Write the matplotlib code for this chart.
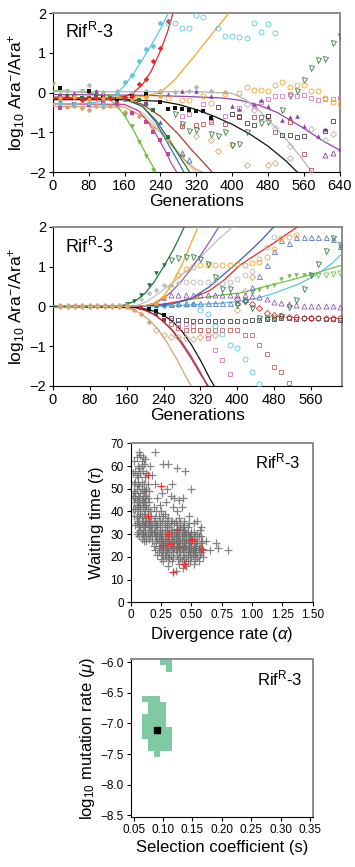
import matplotlib
matplotlib.use("Agg")
import matplotlib.pyplot as plt

plt.rcParams['font.family'] = ['Liberation Sans', 'DejaVu Sans']
plt.rcParams['mathtext.fontset'] = 'custom'
plt.rcParams['mathtext.rm'] = 'Liberation Sans'
plt.rcParams['mathtext.it'] = 'Liberation Sans:italic'

# ---------------- panel 1 : observed trajectories ----------------
# cyan
c1_fit_t = [0, 80, 120, 140, 160, 180, 200, 220, 240, 258]
c1_fit_y = [-0.28, -0.27, -0.2, -0.06, 0.18, 0.48, 0.83, 1.2, 1.6, 2.0]
c1_fill_t = [16, 48, 80, 112, 144, 160, 176, 192, 208, 224, 240]
c1_fill_y = [-0.27, -0.3, -0.26, -0.28, 0.0, 0.27, 0.45, 0.8, 1.1, 1.18, 1.75]
c1_open_t = [256, 272, 288, 304, 320, 336, 368, 384, 400, 416, 432, 448, 464, 480, 496]
c1_open_y = [1.74, 1.74, 1.62, 1.62, 1.96, 1.89, 1.62, 1.42, 1.41, 1.40, 1.38, 1.76, 1.53, 1.72, 1.49]
# red
r1_fit_t = [0, 120, 160, 180, 200, 220, 240, 255, 268]
r1_fit_y = [-0.15, -0.15, -0.1, 0.0, 0.2, 0.55, 1.05, 1.5, 2.0]
r1_fill_t = [32, 64, 96, 128, 160, 176, 192, 208, 224, 240, 256]
r1_fill_y = [-0.12, -0.18, -0.14, -0.15, -0.12, -0.1, 0.21, 0.33, 0.80, 1.13, 1.80]
# orange
o1_fit_t = [0, 160, 200, 240, 270, 306, 340, 370, 393]
o1_fit_y = [-0.15, -0.14, -0.1, 0.0, 0.3, 0.78, 1.26, 1.68, 2.0]
o1_fill_t = [16, 48, 80, 112, 144, 176, 208, 240]
o1_fill_y = [-0.15, -0.12, -0.18, -0.14, -0.1, -0.16, -0.12, -0.1]
o1_open_t = [256, 288, 304, 336, 352, 384, 416, 432, 448, 464, 480, 496, 512, 528, 544, 560, 576, 592, 608, 624, 640]
o1_open_y = [-0.15, -0.18, -0.2, -0.08, -0.27, -0.05, 0.0, 0.15, 0.06, 0.07, 0.05, 0.18, 0.27, 0.14, 0.19, 0.2, 0.05, 0.03, -0.15, -0.25, -0.3]
# black
k1_fit_t = [0, 160, 240, 280, 320, 360, 400, 440, 480, 520, 545]
k1_fit_y = [-0.18, -0.18, -0.22, -0.3, -0.43, -0.6, -0.8, -1.05, -1.35, -1.72, -2.0]
k1_fill_t = [16, 48, 80, 112, 144, 176, 208, 240, 256, 272, 288, 304, 320, 336, 352]
k1_fill_y = [0.12, -0.15, 0.05, -0.14, -0.16, -0.1, -0.05, -0.23, -0.41, -0.40, -0.41, -0.43, -0.46, -0.46, -0.64]
k1_open_t = [368, 400, 416, 432, 448, 480, 512, 528, 544, 560, 608, 624]
k1_open_y = [-0.36, -0.55, -0.61, -0.77, -0.81, -0.6, -1.06, -1.07, -1.12, -1.10, -0.96, -0.72]
# grey
g1_fit_t = [0, 320, 400, 430, 460, 490, 520, 550, 578]
g1_fit_y = [0.02, 0.02, -0.02, -0.18, -0.45, -0.8, -1.17, -1.58, -2.0]
g1_fill_t = [32, 64, 80, 112, 144, 176, 208, 240, 272, 304, 320, 352, 384]
g1_fill_y = [0.03, 0.05, 0.18, 0.02, 0.04, 0.0, 0.03, 0.05, 0.02, 0.04, 0.13, 0.03, 0.02]
g1_open_t = [432, 448, 480, 496, 528, 576, 608, 624]
g1_open_y = [-0.3, -0.44, -0.7, -0.9, -1.34, -0.93, -1.2, -1.04]
# purple
p1_fit_t = [0, 200, 300, 380, 420, 460, 500, 530, 560, 600, 640]
p1_fit_y = [-0.05, -0.07, -0.1, -0.14, -0.2, -0.32, -0.5, -0.7, -0.9, -1.2, -1.45]
p1_fill_t = [16, 48, 80, 96, 112, 144, 176, 208, 240, 256, 288, 320, 352, 400, 416, 448, 464, 480, 512, 528, 544, 560, 592, 608, 640]
p1_fill_y = [-0.05, 0.0, 0.05, 0.03, 0.02, -0.02, 0.0, -0.05, 0.05, -0.05, 0.03, 0.04, -0.09, -0.34, -0.42, -0.28, -0.18, -0.35, -0.7, -0.62, -0.58, -0.84, -1.1, -0.92, -1.42]
p1_open_t = [608, 624]
p1_open_y = [-1.58, -1.52]
# magenta
m1_fit_t = [0, 160, 190, 210, 230, 250, 265, 276]
m1_fit_y = [-0.28, -0.3, -0.45, -0.7, -1.05, -1.45, -1.8, -2.0]
m1_fill_t = [16, 48, 80, 112, 144, 176, 208, 224, 240, 256]
m1_fill_y = [-0.38, -0.3, -0.32, -0.25, -0.3, -0.52, -0.75, -1.0, -1.2, -1.55]
m1_open_t = [288, 304, 336, 352, 384, 400, 416, 448, 464, 480, 496, 512, 528, 544, 560, 576, 592, 608, 624, 640]
m1_open_y = [-0.6, -0.55, -0.3, -0.7, -0.6, -0.55, -0.4, -0.35, -0.23, -0.17, -0.1, -0.1, -0.05, -0.08, -0.06, -0.14, -0.2, -0.17, -0.17, -0.14]
# light green
l1_fit_t = [0, 80, 120, 140, 160, 180, 200, 215, 230]
l1_fit_y = [0.05, 0.0, -0.12, -0.3, -0.58, -0.95, -1.38, -1.7, -2.0]
l1_fill_t = [0, 32, 64, 96, 128, 144, 160, 176, 192, 208, 224]
l1_fill_y = [0.21, 0.05, 0.04, 0.02, -0.08, -0.3, -0.57, -0.85, -1.25, -1.59, -1.96]
# dark green
d1_fit_t = [0, 160, 200, 230, 260, 285, 305]
d1_fit_y = [-0.12, -0.15, -0.35, -0.7, -1.2, -1.65, -2.0]
d1_fill_t = [32, 64, 96, 128, 160, 192, 224, 256]
d1_fill_y = [-0.1, -0.15, -0.08, -0.12, -0.15, -0.2, -0.45, -1.11]
d1_open_t = [272, 288, 304, 320, 352, 368, 384, 400, 416, 432, 464, 480, 512, 528, 544, 560, 576, 592, 608, 624, 640]
d1_open_y = [-0.55, -0.8, -0.96, -0.94, -1.05, -1.09, -1.0, -1.32, -1.3, -1.0, -0.76, -0.73, -0.44, -0.09, 0.05, 0.31, 0.62, 0.82, 0.84, 1.25, 1.42]
# blue
b1_fit_t = [0, 160, 200, 230, 255, 275, 292]
b1_fit_y = [-0.15, -0.17, -0.35, -0.75, -1.25, -1.65, -2.0]
b1_fill_t = [16, 64, 112, 160, 208, 240]
b1_fill_y = [-0.2, -0.15, -0.18, -0.16, -0.25, -0.75]
b1_open_t = [288, 304]
b1_open_y = [-1.52, -1.69]
# dark red
e1_fit_t = [0, 160, 200, 240, 280, 310, 335, 355]
e1_fit_y = [-0.12, -0.15, -0.3, -0.6, -1.05, -1.45, -1.75, -2.0]
e1_fill_t = [16, 48, 80, 112, 144, 176, 208]
e1_fill_y = [-0.12, -0.1, -0.14, -0.12, -0.18, -0.2, -0.28]
e1_open_t = [288, 320, 336, 352, 384, 416, 448, 464, 480, 496, 528, 560, 576]
e1_open_y = [-0.85, -0.82, -0.79, -0.75, -0.78, -0.6, -0.62, -0.62, -0.6, -0.99, -0.75, -1.55, -1.94]
# tan
t1_fit_t = [0, 160, 200, 240, 270, 295, 315, 332]
t1_fit_y = [-0.35, -0.37, -0.6, -1.0, -1.4, -1.7, -1.9, -2.0]
t1_fill_t = [16, 32, 48, 64, 80, 96, 112, 128, 144, 160, 176, 192, 224, 256, 288]
t1_fill_y = [-0.33, -0.36, -0.35, -0.38, -0.45, -0.34, -0.36, -0.33, -0.35, -0.5, -0.52, -0.6, -0.9, -1.2, -1.6]
t1_open_t = [320, 352, 368, 400, 432, 480, 496, 528]
t1_open_y = [-1.09, -1.2, -1.48, -1.31, -1.82, -1.83, -1.78, -1.65]
# light tan
u1_fit_t = [0, 160, 200, 240, 270, 300, 320]
u1_fit_y = [-0.3, -0.32, -0.5, -0.95, -1.35, -1.8, -2.0]

# ---------------- panel 2 : simulated trajectories ----------------
base_t = [16, 32, 48, 64, 80, 96, 112, 128, 144, 160]
base_y = [0, 0, 0, 0, 0, 0, 0, 0, 0, 0]
# dark green
d2_fit_t = [0, 140, 160, 180, 200, 220, 240, 260, 275, 285]
d2_fit_y = [0, 0.0, 0.05, 0.15, 0.33, 0.62, 1.0, 1.4, 1.75, 2.0]
d2_fill_t = [160, 176, 192, 208, 224, 240]
d2_fill_y = [0.05, 0.15, 0.3, 0.55, 0.84, 1.04]
d2_open_t = [256, 272, 288, 304, 320, 336, 352, 368, 384, 400, 416, 432, 448, 464, 480, 496, 512, 528, 544, 560, 576, 592, 608, 624]
d2_open_y = [1.16, 1.22, 1.25, 1.25, 1.19, 1.08, 0.74, 0.45, 0.43, 0.03, 0.15, -0.05, -0.3, -0.3, -0.28, -0.25, -0.01, 0.16, 0.45, 0.8, 1.08, 1.39, 1.72, 1.55]
# orange
o2_fit_t = [0, 200, 220, 240, 260, 280, 300, 315]
o2_fit_y = [0, 0.02, 0.08, 0.25, 0.6, 1.05, 1.6, 2.0]
o2_fill_t = [224, 240]
o2_fill_y = [0.1, 0.25]
o2_open_t = [256, 272, 288, 304, 320, 336, 352, 368, 384, 400, 416, 432, 448, 464, 480, 496, 512, 528]
o2_open_y = [0.5, 0.8, 0.95, 1.0, 1.05, 1.05, 1.05, 1.05, 1.05, 1.06, 1.05, 1.1, 1.12, 1.25, 1.45, 1.72, 1.75, 1.79]
# purple
p2_fit_t = [0, 200, 220, 240, 260, 280, 300, 330, 360]
p2_fit_y = [0, 0.02, 0.08, 0.2, 0.4, 0.65, 0.95, 1.45, 2.0]
p2_fill_t = [224, 240]
p2_fill_y = [0.12, 0.22]
p2_open_t = [256, 272, 288, 304, 320, 336, 352, 368, 384, 400, 416, 432, 448, 464, 480, 496, 512, 528, 544, 560, 576, 592, 608, 624]
p2_open_y = [0.3, 0.3, 0.3, 0.3, 0.3, 0.3, 0.3, 0.3, 0.3, 0.3, 0.28, 0.26, 0.24, 0.19, 0.11, 0.08, 0.05, 0.03, 0.0, 0.0, 0.0, 0.0, 0.0, -0.02]
# light grey
g2_fit_t = [0, 180, 200, 220, 240, 260, 280, 300, 330, 360, 390]
g2_fit_y = [0, 0.02, 0.1, 0.25, 0.42, 0.6, 0.8, 1.0, 1.35, 1.7, 2.0]
g2_fill_t = [192, 208, 224, 240, 256, 272]
g2_fill_y = [0.2, 0.35, 0.41, 0.53, 0.55, 0.6]
g2_open_t = [288, 304, 320, 336, 352, 368, 384, 400, 416, 432, 448, 464, 480]
g2_open_y = [0.61, 0.61, 0.61, 0.61, 0.61, 0.6, 0.62, 0.68, 0.78, 0.89, 1.2, 1.5, 1.75]
# blue
b2_fit_t = [0, 220, 260, 300, 340, 363, 400, 430, 455, 479]
b2_fit_y = [0, 0.02, 0.07, 0.2, 0.5, 0.73, 1.1, 1.42, 1.7, 2.0]
b2_fill_t = [224, 240]
b2_fill_y = [0.04, 0.06]
b2_open_t = [256, 272, 288, 304, 320, 336, 352, 368, 384, 400, 416, 432, 448, 464, 480, 496, 512, 528, 544, 560, 576, 592, 608, 624]
b2_open_y = [0.05, 0.08, 0.08, 0.1, 0.1, 0.1, 0.1, 0.1, 0.1, 0.12, 0.2, 0.49, 0.76, 1.04, 1.4, 1.66, 1.6, 1.76, 1.76, 1.76, 1.76, 1.76, 1.7, 1.52]
# red
r2_fit_t = [0, 200, 240, 270, 300, 340, 370, 406, 440, 480, 530]
r2_fit_y = [0, 0.02, 0.06, 0.12, 0.2, 0.4, 0.65, 1.04, 1.3, 1.6, 2.0]
r2_open_t = [400, 416, 432, 448, 464, 480, 496, 512, 528, 544, 560, 576, 592, 608, 624]
r2_open_y = [0.2, 0.15, 0.07, -0.04, -0.16, -0.22, -0.25, -0.27, -0.27, -0.28, -0.29, -0.3, -0.3, -0.3, -0.3]
# cyan
c2_fit_t = [0, 240, 300, 360, 400, 440, 471, 500, 530, 560, 580, 605, 627]
c2_fit_y = [0, 0.01, 0.04, 0.08, 0.12, 0.2, 0.3, 0.42, 0.55, 0.72, 0.86, 1.08, 1.33]
c2_fill_t = [224, 240, 256, 272, 288, 304]
c2_fill_y = [0.0, 0.02, 0.03, 0.03, 0.04, 0.05]
c2_open_t = [320, 336, 352, 368, 384, 400, 416, 432, 448]
c2_open_y = [-0.08, -0.18, -0.5, -0.7, -0.98, -1.05, -1.31, -1.65, -1.95]
# light green
l2_fit_t = [0, 240, 300, 360, 406, 460, 515, 570, 627]
l2_fit_y = [0, 0.02, 0.18, 0.28, 0.34, 0.5, 0.66, 0.84, 1.04]
l2_fill_t = [432, 448, 464, 480, 496, 512, 528, 544, 560]
l2_fill_y = [0.35, 0.42, 0.5, 0.55, 0.69, 0.77, 0.79, 0.8, 0.8]
l2_open_t = [576, 592, 608, 624]
l2_open_y = [0.8, 0.8, 0.82, 0.84]
# black
k2_fit_t = [0, 180, 200, 220, 240, 260, 280, 300, 320, 340, 350]
k2_fit_y = [0, -0.02, -0.06, -0.12, -0.22, -0.38, -0.62, -0.95, -1.35, -1.8, -2.0]
k2_fill_t = [208, 224, 240]
k2_fill_y = [-0.06, -0.12, -0.22]
k2_open_t = [256, 272, 288, 304, 320, 336, 352, 368, 384, 400, 416, 432, 448, 464, 480, 496, 512, 528, 544, 560, 576, 592, 608, 624]
k2_open_y = [-0.29, -0.33, -0.35, -0.36, -0.37, -0.37, -0.37, -0.37, -0.37, -0.37, -0.37, -0.35, -0.33, -0.32, -0.32, -0.3, -0.3, -0.31, -0.3, -0.3, -0.3, -0.31, -0.32, -0.35]
# dark red
e2_fit_t = [0, 180, 200, 220, 240, 260, 280, 300, 320, 340]
e2_fit_y = [0, -0.03, -0.1, -0.2, -0.38, -0.62, -0.95, -1.3, -1.7, -2.05]
e2_fill_t = [192, 208, 224, 240]
e2_fill_y = [-0.05, -0.1, -0.2, -0.35]
e2_open_t = [256, 272, 288, 304, 320, 336, 352, 368, 384, 400, 416, 432, 448, 464, 480, 496, 512]
e2_open_y = [-0.45, -0.55, -0.58, -0.58, -0.58, -0.58, -0.58, -0.6, -0.6, -0.6, -0.71, -0.71, -0.98, -1.2, -1.52, -1.65, -1.92]
# magenta
m2_fit_t = [0, 180, 200, 220, 240, 260, 280, 300, 320, 335]
m2_fit_y = [0, -0.03, -0.09, -0.2, -0.38, -0.6, -0.9, -1.25, -1.65, -2.0]
m2_open_t = [256, 272, 288, 304, 320, 336, 352, 368, 384]
m2_open_y = [-0.35, -0.42, -0.45, -0.5, -0.6, -0.8, -1.1, -1.35, -1.69]
# tan
t2_fit_t = [0, 150, 170, 190, 210, 230, 250, 270, 290, 300]
t2_fit_y = [0, -0.02, -0.07, -0.17, -0.35, -0.6, -0.95, -1.35, -1.8, -2.0]
t2_fill_t = [176, 192, 208]
t2_fill_y = [-0.08, -0.2, -0.39]
t2_open_t = [224, 240, 256, 272, 288, 304, 320, 336, 352, 400, 416, 432]
t2_open_y = [-0.6, -0.71, -0.78, -0.78, -0.8, -0.82, -0.78, -0.72, -0.72, -0.08, 0.4, 0.75]

# ---------------- panel 3 : waiting time vs divergence ----------------
grey_pts = [
    (0.02, 57), (0.03, 62), (0.04, 58), (0.05, 64), (0.07, 66), (0.08, 65), (0.09, 62), (0.10, 64),
    (0.12, 63), (0.04, 53), (0.06, 55), (0.08, 57), (0.10, 58), (0.12, 55), (0.14, 52), (0.03, 49),
    (0.05, 50), (0.07, 51), (0.09, 53), (0.11, 52), (0.13, 50), (0.15, 49), (0.04, 46), (0.06, 47),
    (0.08, 48), (0.10, 47), (0.12, 46), (0.14, 46), (0.03, 44), (0.05, 43), (0.07, 44), (0.09, 45),
    (0.11, 44), (0.13, 43), (0.15, 44), (0.04, 41), (0.06, 40), (0.08, 41), (0.10, 42), (0.12, 40),
    (0.14, 41), (0.16, 40), (0.05, 38), (0.07, 37), (0.09, 38), (0.11, 39), (0.13, 37), (0.15, 36),
    (0.17, 38), (0.05, 35), (0.07, 34), (0.09, 35), (0.11, 34), (0.13, 35), (0.15, 33), (0.17, 34),
    (0.06, 31), (0.08, 32), (0.10, 30), (0.12, 31), (0.14, 30), (0.07, 29), (0.09, 28), (0.11, 27),
    (0.13, 29), (0.16, 60), (0.18, 56), (0.20, 52), (0.09, 60), (0.06, 60),
    (0.16, 32), (0.18, 30), (0.20, 29), (0.18, 34), (0.20, 33), (0.22, 31), (0.24, 30), (0.22, 35),
    (0.24, 34), (0.26, 32), (0.28, 31), (0.20, 37), (0.23, 38), (0.26, 36), (0.28, 35), (0.30, 34),
    (0.32, 33), (0.25, 40), (0.28, 39), (0.31, 37), (0.34, 36), (0.36, 35), (0.18, 27), (0.21, 26),
    (0.24, 25), (0.27, 24), (0.20, 23), (0.23, 22), (0.26, 21), (0.29, 20), (0.32, 19), (0.25, 27),
    (0.28, 28), (0.30, 26), (0.33, 25), (0.36, 24), (0.30, 30), (0.33, 29), (0.36, 28), (0.39, 27),
    (0.42, 26), (0.34, 32), (0.37, 31), (0.40, 30), (0.43, 29), (0.46, 28), (0.38, 34), (0.41, 33),
    (0.44, 32), (0.47, 31), (0.50, 30), (0.40, 37), (0.44, 36), (0.48, 35), (0.35, 22), (0.38, 21),
    (0.41, 20), (0.44, 19), (0.47, 18), (0.38, 24), (0.41, 23), (0.44, 22), (0.47, 21), (0.50, 20),
    (0.53, 19), (0.45, 25), (0.48, 24), (0.51, 23), (0.54, 22), (0.57, 21), (0.47, 27), (0.50, 26),
    (0.53, 25), (0.56, 24), (0.49, 29), (0.52, 28), (0.55, 27), (0.58, 26), (0.52, 31), (0.55, 30),
    (0.58, 29), (0.34, 18), (0.40, 17), (0.46, 16), (0.52, 17), (0.56, 18), (0.30, 23), (0.33, 21),
    (0.26, 28), (0.22, 28), (0.16, 29), (0.19, 31), (0.60, 23), (0.62, 27), (0.65, 23), (0.70, 26),
    (0.72, 24), (0.80, 23), (0.60, 20), (0.57, 32), (0.50, 50), (0.45, 58), (0.43, 46), (0.38, 59),
    (0.36, 46), (0.34, 52), (0.30, 50), (0.31, 61), (0.27, 61), (0.20, 66), (0.40, 45), (0.42, 42),
    (0.35, 42), (0.38, 40), (0.29, 44), (0.33, 47), (0.26, 48), (0.22, 46), (0.24, 43), (0.19, 42),
    (0.21, 40), (0.48, 38), (0.52, 35), (0.55, 36), (0.58, 33), (0.37, 14), (0.31, 16), (0.27, 18),
    (0.43, 15), (0.35, 26), (0.37, 27), (0.39, 25), (0.41, 27), (0.43, 24), (0.45, 26), (0.47, 23),
    (0.49, 25), (0.51, 22), (0.53, 24), (0.36, 29), (0.38, 30), (0.40, 28), (0.42, 29), (0.44, 27),
    (0.46, 29), (0.48, 26), (0.50, 28), (0.32, 27), (0.34, 24), (0.36, 25), (0.28, 25), (0.27, 22),
    (0.31, 20), (0.25, 23), (0.23, 24),
    (0.05, 56), (0.07, 59), (0.11, 61), (0.13, 57), (0.03, 52), (0.06, 52), (0.09, 50), (0.12, 49),
    (0.04, 48), (0.07, 46), (0.11, 49), (0.13, 47), (0.05, 45), (0.08, 43), (0.10, 44), (0.12, 42),
    (0.14, 38), (0.06, 42), (0.08, 39), (0.10, 36), (0.12, 36), (0.14, 34), (0.06, 36), (0.08, 33),
    (0.10, 32), (0.12, 33), (0.16, 36), (0.09, 30), (0.11, 29), (0.13, 27), (0.15, 28), (0.02, 47),
    (0.02, 41), (0.03, 38), (0.04, 34), (0.05, 30),
    (0.22, 33), (0.24, 32), (0.26, 30), (0.28, 33), (0.30, 32), (0.32, 30), (0.34, 29), (0.36, 31),
    (0.38, 32), (0.40, 32), (0.42, 31), (0.44, 30), (0.46, 30), (0.48, 29), (0.50, 27), (0.52, 26),
    (0.54, 25), (0.56, 23), (0.58, 22), (0.55, 20), (0.51, 21), (0.49, 22), (0.46, 20), (0.43, 21),
    (0.40, 22), (0.37, 23), (0.34, 26), (0.31, 24), (0.29, 23), (0.26, 25), (0.23, 27), (0.21, 29),
    (0.19, 25), (0.22, 21), (0.25, 19), (0.28, 21), (0.32, 22), (0.35, 20), (0.39, 19), (0.42, 18),
    (0.45, 17), (0.49, 18), (0.53, 21), (0.57, 24), (0.59, 27), (0.56, 29), (0.53, 29), (0.50, 31),
    (0.47, 33), (0.44, 34), (0.41, 35), (0.37, 36), (0.33, 35), (0.30, 36), (0.27, 38), (0.24, 36),
    (0.21, 34), (0.19, 36), (0.17, 31), (0.20, 31), (0.23, 29), (0.27, 27), (0.29, 29), (0.31, 28),
    (0.35, 27), (0.38, 26), (0.40, 25), (0.42, 24), (0.44, 25), (0.46, 24), (0.48, 22), (0.50, 24),
    (0.52, 23), (0.54, 26), (0.45, 31), (0.43, 33), (0.39, 29), (0.37, 29), (0.33, 31), (0.28, 26),
    (0.25, 29),
]
red_pts = [(0.146, 56.1), (0.247, 51.0), (0.146, 38.0), (0.305, 30.0), (0.269, 25.3), (0.324, 25.5),
           (0.385, 32.3), (0.401, 24.2), (0.508, 27.5), (0.585, 23.5), (0.442, 16.9), (0.352, 13.2)]

# ---------------- panel 4 : selection coefficient vs mutation rate ----------------
cell_s = [0.10, 0.11, 0.11,
          0.07, 0.08, 0.09,
          0.08, 0.09, 0.10, 0.08, 0.09, 0.10,
          0.07, 0.08, 0.09, 0.10, 0.07, 0.08, 0.09, 0.10,
          0.07, 0.08, 0.09, 0.10, 0.11, 0.07, 0.08, 0.09, 0.10, 0.11,
          0.08, 0.09, 0.10, 0.11, 0.08, 0.09, 0.10, 0.11,
          0.09]
cell_mu = [-6.0, -6.0, -6.1,
           -6.6, -6.6, -6.6,
           -6.7, -6.7, -6.7, -6.8, -6.8, -6.8,
           -6.9, -6.9, -6.9, -6.9, -7.0, -7.0, -7.0, -7.0,
           -7.1, -7.1, -7.1, -7.1, -7.1, -7.2, -7.2, -7.2, -7.2, -7.2,
           -7.3, -7.3, -7.3, -7.3, -7.4, -7.4, -7.4, -7.4,
           -7.5]
best_s = 0.09
best_mu = -7.1

# styles
FS_LAB = 12.5
GREY_SP = '#8c8c8c'


def style_axes(ax, tick_fs):
    for s in ['left', 'bottom']:
        ax.spines[s].set_color('black')
        ax.spines[s].set_linewidth(0.8)
    for s in ['top', 'right']:
        ax.spines[s].set_color(GREY_SP)
        ax.spines[s].set_linewidth(1.4)
    ax.tick_params(direction='out', length=3, width=0.8, labelsize=tick_fs, pad=2)
    ax.tick_params(top=False, right=False)


def draw(ax, fit_t, fit_y, col, mk, fill_t=None, fill_y=None, open_t=None, open_y=None, ms=3.3):
    ax.plot(fit_t, fit_y, '-', color=col, lw=0.9, zorder=3)
    if fill_t:
        ax.plot(fill_t, fill_y, mk, color=col, ms=ms, mew=0, ls='none', zorder=4)
    if open_t:
        ax.plot(open_t, open_y, mk, mfc='none', mec=col, ms=ms + 0.3, mew=0.6, ls='none', zorder=4)


def open_pts(ax, t, y, col, mk, ms=3.6):
    ax.plot(t, y, mk, mfc='none', mec=col, ms=ms, mew=0.6, ls='none', zorder=4)


def rif_label(ax, x, y, fs):
    ax.text(x, y, r'Rif$^{\mathrm{R}}$-3', transform=ax.transAxes, fontsize=fs, va='center', ha='left')


fig = plt.figure(figsize=(3.55, 8.67), dpi=100)

# panel 1
ax1 = fig.add_axes([0.149, 0.8016, 0.808, 0.1834])
draw(ax1, u1_fit_t, u1_fit_y, '#e6c8a0', 'D')
draw(ax1, t1_fit_t, t1_fit_y, '#d2a574', 'D', t1_fill_t, t1_fill_y, t1_open_t, t1_open_y, ms=2.8)
draw(ax1, e1_fit_t, e1_fit_y, '#b03a2e', 's', e1_fill_t, e1_fill_y, None, None, ms=2.8)
open_pts(ax1, e1_open_t, e1_open_y, '#c0504d', 's', 3.3)
draw(ax1, b1_fit_t, b1_fit_y, '#3d6cc0', '^', b1_fill_t, b1_fill_y, b1_open_t, b1_open_y)
draw(ax1, d1_fit_t, d1_fit_y, '#1f7a3a', 's', d1_fill_t, d1_fill_y, None, None, ms=2.8)
open_pts(ax1, d1_open_t, d1_open_y, '#3a7d44', 'v')
draw(ax1, l1_fit_t, l1_fit_y, '#6abd45', 'v', l1_fill_t, l1_fill_y)
draw(ax1, m1_fit_t, m1_fit_y, '#c4459c', 's', m1_fill_t, m1_fill_y, None, None, ms=2.8)
open_pts(ax1, m1_open_t, m1_open_y, '#d27cbc', 's', 3.3)
draw(ax1, p1_fit_t, p1_fit_y, '#8e44ad', '^', p1_fill_t, p1_fill_y, p1_open_t, p1_open_y)
draw(ax1, g1_fit_t, g1_fit_y, '#b5b5b5', 'D', g1_fill_t, g1_fill_y, g1_open_t, g1_open_y, ms=2.8)
draw(ax1, k1_fit_t, k1_fit_y, '#111111', 's', k1_fill_t, k1_fill_y, None, None, ms=2.8)
open_pts(ax1, k1_open_t, k1_open_y, '#444444', 's', 3.3)
draw(ax1, o1_fit_t, o1_fit_y, '#f5a623', 'o', o1_fill_t, o1_fill_y, o1_open_t, o1_open_y)
draw(ax1, r1_fit_t, r1_fit_y, '#e8262a', 'D', r1_fill_t, r1_fill_y, None, None, ms=2.8)
draw(ax1, c1_fit_t, c1_fit_y, '#5bc6e0', 'o', c1_fill_t, c1_fill_y, c1_open_t, c1_open_y)
ax1.set_xlim(0, 640)
ax1.set_ylim(-2, 2)
ax1.set_xticks(range(0, 641, 80))
ax1.set_yticks([-2, -1, 0, 1, 2])
style_axes(ax1, 10.5)
ax1.set_xlabel('Generations', fontsize=FS_LAB, labelpad=1)
ax1.set_ylabel(r'log$_{10}$ Ara$^{-}$/Ara$^{+}$', fontsize=FS_LAB, labelpad=2)
rif_label(ax1, 0.043, 0.882, 13)

# panel 2
ax2 = fig.add_axes([0.149, 0.5548, 0.814, 0.1834])
ax2.plot(base_t, base_y, 'D', color='#d2a574', ms=2.8, ls='none', zorder=5)
draw(ax2, t2_fit_t, t2_fit_y, '#d2a574', 'D', t2_fill_t, t2_fill_y, t2_open_t, t2_open_y, ms=2.8)
draw(ax2, m2_fit_t, m2_fit_y, '#c4459c', 's')
open_pts(ax2, m2_open_t, m2_open_y, '#d27cbc', 's', 3.3)
draw(ax2, e2_fit_t, e2_fit_y, '#b22d2d', 's', e2_fill_t, e2_fill_y, None, None, ms=2.8)
open_pts(ax2, e2_open_t, e2_open_y, '#c8655d', 's', 3.3)
draw(ax2, k2_fit_t, k2_fit_y, '#111111', 's', k2_fill_t, k2_fill_y, None, None, ms=2.8)
open_pts(ax2, k2_open_t, k2_open_y, '#444444', 's', 3.3)
draw(ax2, l2_fit_t, l2_fit_y, '#72c043', 'v', l2_fill_t, l2_fill_y, l2_open_t, l2_open_y)
draw(ax2, c2_fit_t, c2_fit_y, '#5bc6e0', 'o', c2_fill_t, c2_fill_y, c2_open_t, c2_open_y)
draw(ax2, r2_fit_t, r2_fit_y, '#e8262a', 'D', None, None, r2_open_t, r2_open_y, ms=2.8)
draw(ax2, b2_fit_t, b2_fit_y, '#3b5fc0', '^', b2_fill_t, b2_fill_y)
open_pts(ax2, b2_open_t, b2_open_y, '#5a78c8', '^')
draw(ax2, g2_fit_t, g2_fit_y, '#c0c0c0', 'D', g2_fill_t, g2_fill_y, None, None, ms=2.8)
open_pts(ax2, g2_open_t, g2_open_y, '#b8b8b8', 'o', 3.5)
draw(ax2, p2_fit_t, p2_fit_y, '#8e5bb5', '^', p2_fill_t, p2_fill_y, p2_open_t, p2_open_y)
draw(ax2, o2_fit_t, o2_fit_y, '#f5a623', 'o', o2_fill_t, o2_fill_y, o2_open_t, o2_open_y)
draw(ax2, d2_fit_t, d2_fit_y, '#1a7a3a', 'v', d2_fill_t, d2_fill_y)
open_pts(ax2, d2_open_t, d2_open_y, '#2e7d45', 'v')
ax2.set_xlim(0, 627)
ax2.set_ylim(-2, 2)
ax2.set_xticks(range(0, 561, 80))
ax2.set_yticks([-2, -1, 0, 1, 2])
style_axes(ax2, 10.5)
ax2.set_xlabel('Generations', fontsize=FS_LAB, labelpad=1)
ax2.set_ylabel(r'log$_{10}$ Ara$^{-}$/Ara$^{+}$', fontsize=FS_LAB, labelpad=2)
rif_label(ax2, 0.043, 0.876, 13)

# panel 3
ax3 = fig.add_axes([0.368, 0.3053, 0.513, 0.1834])
gx = [p[0] for p in grey_pts]
gy = [p[1] for p in grey_pts]
ax3.plot(gx, gy, '+', color='#707070', ms=5.5, mew=0.9, alpha=0.85, ls='none')
rx = [p[0] for p in red_pts]
ry = [p[1] for p in red_pts]
ax3.plot(rx, ry, '+', color='#ff2a2a', ms=6, mew=0.9, ls='none')
ax3.set_xlim(0, 1.5)
ax3.set_ylim(0, 70)
ax3.set_xticks([0, 0.25, 0.5, 0.75, 1.0, 1.25, 1.5])
ax3.set_xticklabels(['0', '0.25', '0.50', '0.75', '1.00', '1.25', '1.50'])
ax3.set_yticks(range(0, 71, 10))
style_axes(ax3, 8.5)
ax3.set_xlabel(r'Divergence rate ($\alpha$)', fontsize=12, labelpad=3)
ax3.set_ylabel(r'Waiting time ($\tau$)', fontsize=12, labelpad=3)
rif_label(ax3, 0.683, 0.884, 12)

# panel 4
ax4 = fig.add_axes([0.369, 0.058, 0.513, 0.1815])
ax4.bar(cell_s, [0.1] * len(cell_mu), width=0.01, bottom=[m - 0.05 for m in cell_mu],
        color='#80c9a2', edgecolor='none', zorder=2)
ax4.plot([best_s], [best_mu], 's', color='black', ms=4.5, zorder=3)
ax4.set_xlim(0.0455, 0.355)
ax4.set_ylim(-8.527, -5.95)
ax4.set_xticks([0.05, 0.10, 0.15, 0.20, 0.25, 0.30, 0.35])
ax4.set_xticklabels(['0.05', '0.10', '0.15', '0.20', '0.25', '0.30', '0.35'])
ax4.set_yticks([-6.0, -6.5, -7.0, -7.5, -8.0, -8.5])
ax4.set_yticklabels(['\u22126.0', '\u22126.5', '\u22127.0', '\u22127.5', '\u22128.0', '\u22128.5'])
style_axes(ax4, 8.5)
ax4.set_xlabel('Selection coefficient (s)', fontsize=12, labelpad=3)
ax4.set_ylabel(r'log$_{10}$ mutation rate ($\mu$)', fontsize=12, labelpad=3)
rif_label(ax4, 0.692, 0.879, 12)

fig.savefig('out.png', dpi=100)
